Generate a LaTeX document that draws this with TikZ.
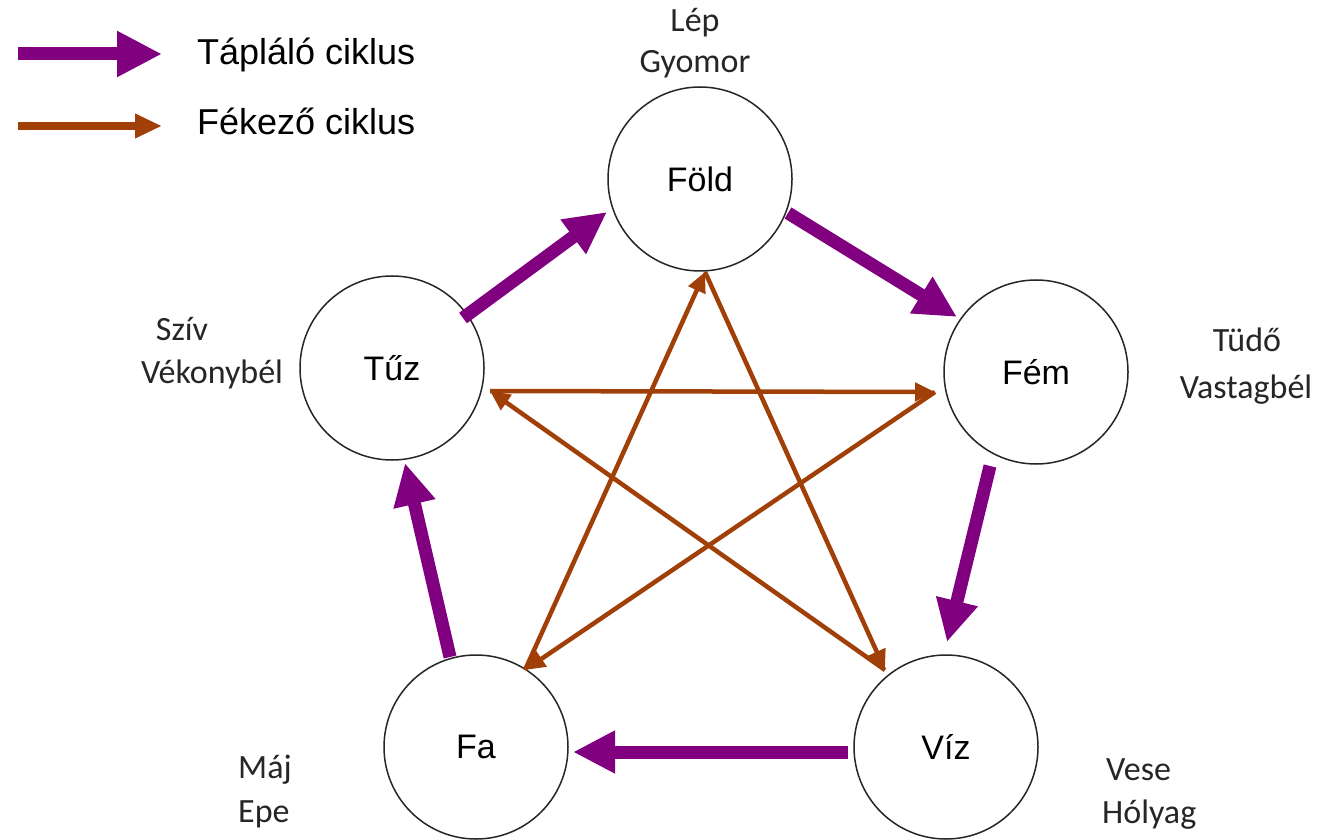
\documentclass[tikz,border=0pt]{standalone}
\usepackage{fontspec}
\setmainfont{Liberation Sans}
\newfontfamily\sidefont{Carlito}
\usetikzlibrary{arrows.meta,calc}
\definecolor{feed}{RGB}{128,0,128}
\definecolor{ctrl}{RGB}{160,64,8}
\definecolor{txt}{RGB}{38,38,38}
\begin{document}
\begin{tikzpicture}[x=1pt,y=1pt,
  elem/.style={circle, draw=black!85, line width=1.5pt, minimum size=184pt, inner sep=0pt, fill=white, font=\fontsize{34}{40}\selectfont},
  organ/.style={font=\sidefont\fontsize{34}{44}\selectfont, text=txt, inner sep=0pt, anchor=base},
  feedarrow/.style={draw=feed, line width=13pt, -{Triangle[length=42pt,width=40pt]}},
  ctrlarrow/.style={draw=ctrl, line width=4.5pt, -{Triangle[length=20pt,width=18pt]}},
  legtext/.style={font=\fontsize{36}{40}\selectfont, anchor=base west, inner sep=0pt}
]
\useasboundingbox (0,0) rectangle (1337,839);

% elements
\node[elem] (fold) at (700,660) {Föld};
\node[elem] (tuz)  at (392,471) {Tűz};
\node[elem] (fem)  at (1036,467) {Fém};
\node[elem] (fa)   at (476,92) {Fa};
\node[elem] (viz)  at (946,92) {Víz};

% star vertices
\coordinate (sFold) at ($(fold)+(5,-93)$);
\coordinate (sTuz)  at ($(tuz)+(98,-23)$);
\coordinate (sFem)  at ($(fem)+(-101,-20)$);
\coordinate (sViz)  at ($(viz)+(-61,77)$);
\coordinate (sFa)   at ($(fa)+(49,77)$);

% controlling cycle
\draw[ctrlarrow] (sFa) -- (sFold);
\draw[ctrlarrow] (sFold) -- (sViz);
\draw[ctrlarrow] (sViz) -- (sTuz);
\draw[ctrlarrow] (sTuz) -- (sFem);
\draw[ctrlarrow] (sFem) -- (sFa);

% nourishing cycle
\draw[feedarrow] ($(tuz)+(71,50)$) -- ($(fold)+(-93,-33)$);
\draw[feedarrow] ($(fold)+(88,-34)$) -- ($(fem)+(-79,55)$);
\draw[feedarrow] ($(fem)+(-46,-94)$) -- ($(viz)+(1,105)$);
\draw[feedarrow] ($(viz)+(-98,-5)$) -- ($(fa)+(97,-5)$);
\draw[feedarrow] ($(fa)+(-26,90)$) -- ($(tuz)+(13,-95)$);

% organ labels
\node[organ] (lep) at (695,807) {Lép};
\node[organ] (gyomor) at (695,766) {Gyomor};
\node[organ] (sziv) at (182,498) {Szív};
\node[organ] (vekony) at (212,456) {Vékonybél};
\node[organ] (tudo) at (1247,487) {Tüdő};
\node[organ] (vastag) at (1246,441) {Vastagbél};
\node[organ, anchor=base west] (maj) at (238,61) {Máj};
\node[organ, anchor=base west] (epe) at (238,17) {Epe};
\node[organ, anchor=base west] (vese) at (1106,59) {Vese};
\node[organ, anchor=base west] (holyag) at (1102,16) {Hólyag};

% legend
\coordinate (lf1) at (18,785);
\coordinate (lf2) at (162,785);
\draw[draw=feed, line width=13pt, -{Triangle[length=45pt,width=43pt]}] (lf1) -- (lf2);
\node[legtext] (lfeed) at (197,774) {Tápláló ciklus};
\coordinate (lc1) at (18,713);
\coordinate (lc2) at (162,713);
\draw[draw=ctrl, line width=8pt, -{Triangle[length=27pt,width=23pt]}] (lc1) -- (lc2);
\node[legtext] (lctrl) at (197,704) {Fékező ciklus};
\end{tikzpicture}
\end{document}
